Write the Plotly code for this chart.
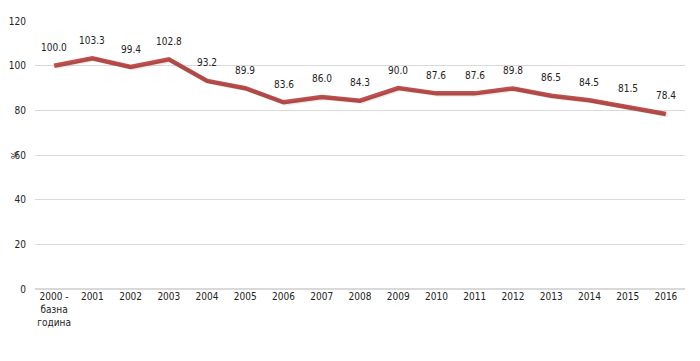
import plotly.graph_objects as go

categories = ["2000 -<br>базна<br>година", "2001", "2002", "2003", "2004", "2005", "2006", "2007",
              "2008", "2009", "2010", "2011", "2012", "2013", "2014", "2015", "2016"]
values = [100.0, 103.3, 99.4, 102.8, 93.2, 89.9, 83.6, 86.0, 84.3, 90.0, 87.6, 87.6, 89.8, 86.5, 84.5, 81.5, 78.4]
labels = [f"{v:.1f}" for v in values]
y_ticks = [0, 20, 40, 60, 80, 100, 120]

FONT = "DejaVu Sans Condensed, Liberation Sans"

fig = go.Figure()
fig.add_trace(go.Scatter(x=categories, y=values, mode="lines",
                         line=dict(color="rgba(0,0,0,0.08)", width=4),
                         hoverinfo="skip", xaxis="x2", yaxis="y2", showlegend=False))
fig.add_trace(go.Scatter(x=categories, y=values, mode="lines",
                         line=dict(color="#C0504D", width=4.5), showlegend=False))
for i, (v, t) in enumerate(zip(values, labels)):
    fig.add_annotation(x=i, y=v, text=t, showarrow=False, yshift=18,
                       font=dict(size=10, color="#222222", family=FONT))

fig.add_annotation(xref="paper", yref="paper", x=0, y=0.5, xshift=-26, text="%",
                   textangle=-90, showarrow=False, borderpad=0,
                   font=dict(size=9, color="#222222", family=FONT))

fig.update_layout(
    width=684, height=345,
    margin=dict(l=27, r=7, t=13, b=64),
    paper_bgcolor="white", plot_bgcolor="white",
    font=dict(family=FONT, size=10, color="#222222"),
    xaxis=dict(type="category", showgrid=False, showline=False, ticks="", tickangle=0,
               tickfont=dict(size=10), range=[-0.5, 16.5], automargin=False),
    xaxis2=dict(type="category", overlaying="x", visible=False, range=[-0.56, 16.44]),
    yaxis=dict(range=[0, 120], tickvals=y_ticks, showgrid=True, gridcolor="#D9D9D9",
               gridwidth=1, zeroline=True, zerolinecolor="#D9D9D9", showline=False,
               ticks="", ticklabelstandoff=8,
               tickfont=dict(size=10), automargin=False),
    yaxis2=dict(range=[0.6, 120.6], overlaying="y", visible=False),
)
fig.write_html("out.html")
